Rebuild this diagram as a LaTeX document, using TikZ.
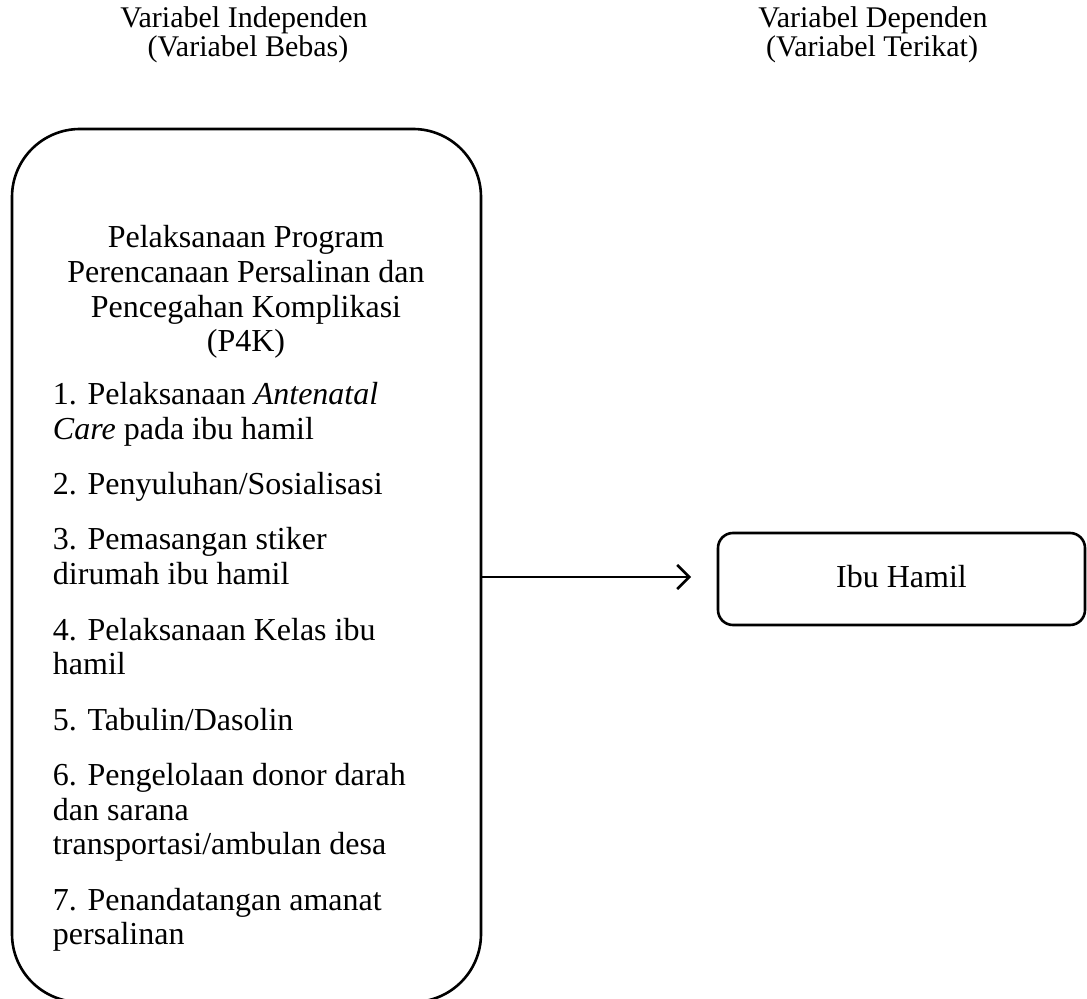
\documentclass[tikz,border=0pt]{standalone}
\usepackage{fontspec}
\setmainfont{Liberation Serif}
\usetikzlibrary{arrows.meta}
\begin{document}
\begin{tikzpicture}[x=0.5pt,y=-0.5pt,
  every node/.style={inner sep=0pt,outer sep=0pt},
  txt/.style={font=\fontsize{16pt}{17.5pt}\selectfont,anchor=base west},
  ctxt/.style={font=\fontsize{16pt}{17.5pt}\selectfont,anchor=base},
  htxt/.style={font=\fontsize{15pt}{16pt}\selectfont,anchor=base},
  bigbox/.style={draw,line width=1.3pt,rounded corners=34pt,minimum width=234.5pt,minimum height=436.5pt},
  smallbox/.style={draw,line width=1.3pt,rounded corners=7.5pt,minimum width=183.5pt,minimum height=46pt}
]
\useasboundingbox (0,0) rectangle (1087,999);
% headers
\node[htxt] (h1a) at (244,28) {Variabel Independen};
\node[htxt] (h1b) at (248,57) {(Variabel Bebas)};
\node[htxt] (h2a) at (873,28) {Variabel Dependen};
\node[htxt] (h2b) at (872,57) {(Variabel Terikat)};
% boxes
\node[bigbox] (left) at (246.5,565.5) {};
\node[smallbox] (right) at (901.5,579) {};
\node[ctxt] (ibu) at (901.5,588) {Ibu Hamil};
% box text
\node[ctxt] (t1) at (246,248) {Pelaksanaan Program};
\node[ctxt] (t2) at (246,283) {Perencanaan Persalinan dan};
\node[ctxt] (t3) at (246,318) {Pencegahan Komplikasi};
\node[ctxt] (t4) at (246,352) {(P4K)};
\node[txt] (p1a) at (53,405) {1. Pelaksanaan \textit{Antenatal}};
\node[txt] (p1b) at (53,440) {\textit{Care} pada ibu hamil};
\node[txt] (p2) at (53,495) {2. Penyuluhan/Sosialisasi};
\node[txt] (p3a) at (53,550) {3. Pemasangan stiker};
\node[txt] (p3b) at (53,585) {dirumah ibu hamil};
\node[txt] (p4a) at (53,640) {4. Pelaksanaan Kelas ibu};
\node[txt] (p4b) at (53,675) {hamil};
\node[txt] (p5) at (53,730) {5. Tabulin/Dasolin};
\node[txt] (p6a) at (53,785) {6. Pengelolaan donor darah};
\node[txt] (p6b) at (53,820) {dan sarana};
\node[txt] (p6c) at (53,854) {transportasi/ambulan desa};
\node[txt] (p7a) at (53,910) {7. Penandatangan amanat};
\node[txt] (p7b) at (53,944) {persalinan};
% arrow
\coordinate (tip) at (691,577);
\draw[line width=1.3pt,-{Straight Barb[length=6pt,width=12pt]}] (left.east |- tip) -- (tip);
\end{tikzpicture}
\end{document}
